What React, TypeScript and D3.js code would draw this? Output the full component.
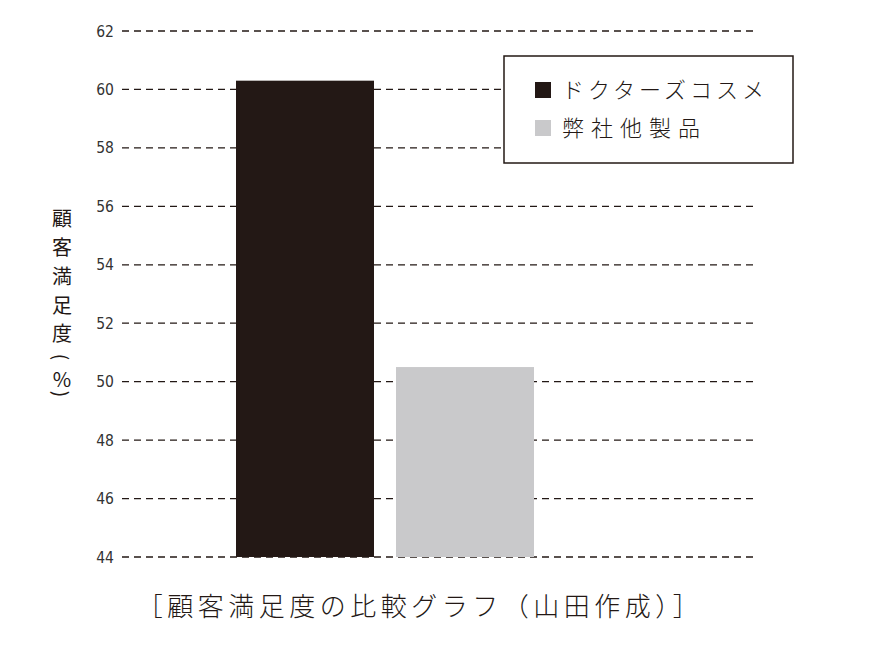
import React from "react";
import * as d3 from "d3";

const categories = ["ドクターズコスメ", "弊社他製品"];
const values = [60.3, 50.5];
const colors = ["#231815", "#c9c9cb"];
const yTicks = [44, 46, 48, 50, 52, 54, 56, 58, 60, 62];
const yTitleChars = ["顧", "客", "満", "足", "度", "(", "%", ")"];
const caption = "［顧客満足度の比較グラフ（山田作成）］";

const W = 870;
const H = 649;

export default function App() {
  const y = d3.scaleLinear().domain([44, 62]).range([557, 31]);
  const x = d3.scaleBand().domain(categories).range([236, 534]).paddingInner(0.1375).paddingOuter(0);
  const font = "'Noto Sans CJK JP', 'Noto Sans', sans-serif";
  const titleY = [217, 246, 275, 304, 332, 357, 378, 394];
  return (
    <svg width={W} height={H} style={{ position: "absolute", left: 0, top: 0, background: "#fff" }} fontFamily={font}>
      {yTicks.map((t) => (
        <g key={t}>
          <line x1={122} x2={755} y1={y(t)} y2={y(t)} stroke="#231815" strokeWidth={1.3} strokeDasharray="7,5" />
          <text x={114} y={y(t)} dy="0.36em" textAnchor="end" fontSize={15.5} fill="#333" fontFamily="'DejaVu Sans Condensed', 'Roboto Condensed', sans-serif">
            {t}
          </text>
        </g>
      ))}
      {categories.map((c, i) => (
        <rect key={c} x={x(c)} width={x.bandwidth()} y={y(values[i])} height={y(44) - y(values[i])} fill={colors[i]} />
      ))}
      <g>
        <rect x={504} y={56} width={289} height={107} fill="#fff" stroke="#231815" strokeWidth={1.5} />
        {categories.map((c, i) => (
          <g key={c}>
            <rect x={535} y={82 + i * 38} width={16} height={16} fill={colors[i]} />
            <text x={562} y={90 + i * 38} dy="0.36em" fontSize={22} fill="#231815" letterSpacing={i === 1 ? 7 : 4} fontWeight={300}>
              {c}
            </text>
          </g>
        ))}
      </g>
      <g>
        {yTitleChars.map((ch, i) => {
          const rot = ch === "(" || ch === ")";
          return (
            <text
              key={i}
              x={62}
              y={titleY[i]}
              dominantBaseline="central"
              textAnchor="middle"
              fontSize={rot ? 19 : 20}
              fill="#231815"
              fontWeight={400}
              transform={rot ? `rotate(90, 62, ${titleY[i]})` : undefined}
            >
              {ch}
            </text>
          );
        })}
      </g>
      <text x={420} y={607} dy="0.35em" textAnchor="middle" fontSize={26} fill="#231815" fontWeight={300} letterSpacing={4.5}>
        {caption}
      </text>
    </svg>
  );
}
